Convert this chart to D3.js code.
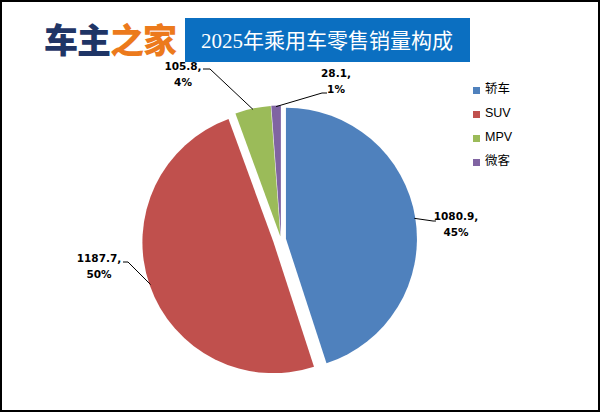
<!DOCTYPE html>
<html>
<head>
<meta charset="utf-8">
<script src="https://cdn.jsdelivr.net/npm/d3@7"></script>
<style>
  html, body { margin: 0; padding: 0; background: #fff; }
  svg { display: block; }
</style>
</head>
<body>
<div id="chart"></div>
<script>
// data
var categories = ['轿车', 'SUV', 'MPV', '微客'];
var sales = [1080.9, 1187.7, 105.8, 28.1];
var percentLabels = ['45%', '50%', '4%', '1%'];
var colors = ['#4f81bd', '#c0504d', '#9bbb59', '#8064a2'];

var W = 600, H = 412;
var CX = 281, CY = 239.5, R = 131;
// how far each slice is pulled out of the pie
var explode = [5, 8, 3, 3];
// label text centres and leader elbows (hand placed, like the original)
var labelAt = [[456, 222], [99, 264], [183, 72], [336, 79]];
var leaderEnd = [[433, 221], [128, 262], [210, 69], [322, 93]];
var leaderTail = [[436, 221], [123, 262], [203, 69], [327, 93]];

var svg = d3.select('#chart').append('svg')
  .attr('width', W).attr('height', H);

svg.append('rect')
  .attr('x', 1).attr('y', 1).attr('width', W - 2).attr('height', H - 2)
  .attr('fill', '#fff').attr('stroke', '#000').attr('stroke-width', 2);

// header: logo + title box
var logo = svg.append('text')
  .attr('x', 44).attr('y', 53)
  .style('font-family', '"Noto Sans CJK SC", sans-serif')
  .style('font-weight', 900)
  .style('font-size', '34px')
  .style('letter-spacing', '-1px');
logo.append('tspan').attr('fill', '#1f3566').text('车主');
logo.append('tspan').attr('fill', '#ec7a1c').text('之家');

svg.append('rect')
  .attr('x', 185).attr('y', 18).attr('width', 285).attr('height', 44)
  .attr('fill', '#0b6fc1');
svg.append('text')
  .attr('x', 327).attr('y', 48)
  .attr('text-anchor', 'middle')
  .attr('fill', '#fff')
  .style('font-family', '"Liberation Serif", "Noto Sans CJK SC", serif')
  .style('font-size', '21px')
  .text('2025年乘用车零售销量构成');

// pie
var pie = d3.pie().sort(null).value(function(d) { return d; });
var arcs = pie(sales);
var arc = d3.arc().innerRadius(0).outerRadius(R);

function offsetOf(d, i) {
  var a = (d.startAngle + d.endAngle) / 2;
  return [Math.sin(a) * explode[i], -Math.cos(a) * explode[i]];
}

var g = svg.append('g').attr('transform', 'translate(' + CX + ',' + CY + ')');

g.selectAll('path.slice')
  .data(arcs)
  .enter()
  .append('path')
  .attr('class', 'slice')
  .attr('fill', function(d, i) { return colors[i]; })
  .attr('transform', function(d, i) {
    var o = offsetOf(d, i);
    return 'translate(' + o[0] + ',' + o[1] + ')';
  })
  .attr('d', arc);

// leader lines start on the slice rim at its middle angle
var rim = d3.arc().innerRadius(R - 1).outerRadius(R - 1);
arcs.forEach(function(d, i) {
  var o = offsetOf(d, i);
  var a = (d.startAngle + d.endAngle) / 2;
  var sx = CX + o[0] + Math.sin(a) * (R - 1);
  var sy = CY + o[1] - Math.cos(a) * (R - 1);
  svg.append('polyline')
    .attr('points', [[sx, sy], leaderEnd[i], leaderTail[i]].map(function(p) { return p.join(','); }).join(' '))
    .attr('fill', 'none')
    .attr('stroke', '#000')
    .attr('stroke-width', 1);

  var t = svg.append('text')
    .attr('text-anchor', 'middle')
    .attr('fill', '#000')
    .style('font-family', '"DejaVu Sans", sans-serif')
    .style('font-weight', 'bold')
    .style('font-size', '10.5px');
  t.append('tspan').attr('x', labelAt[i][0]).attr('y', labelAt[i][1] - 2)
    .text(d3.format('.1f')(sales[i]) + ',');
  t.append('tspan').attr('x', labelAt[i][0]).attr('y', labelAt[i][1] + 14)
    .text(percentLabels[i]);
});

// legend
var legendY = d3.scalePoint().domain(categories).range([89, 161]);
var legend = svg.selectAll('g.legend')
  .data(categories)
  .enter()
  .append('g')
  .attr('class', 'legend')
  .attr('transform', function(d) { return 'translate(473,' + legendY(d) + ')'; });
legend.append('rect')
  .attr('x', 0).attr('y', -2).attr('width', 7).attr('height', 7)
  .attr('fill', function(d, i) { return colors[i]; });
legend.append('text')
  .attr('x', 12).attr('y', 4)
  .attr('fill', '#000')
  .style('font-family', '"Liberation Sans", "Noto Sans CJK SC", sans-serif')
  .style('font-size', '12.5px')
  .text(function(d) { return d; });
</script>
</body>
</html>
